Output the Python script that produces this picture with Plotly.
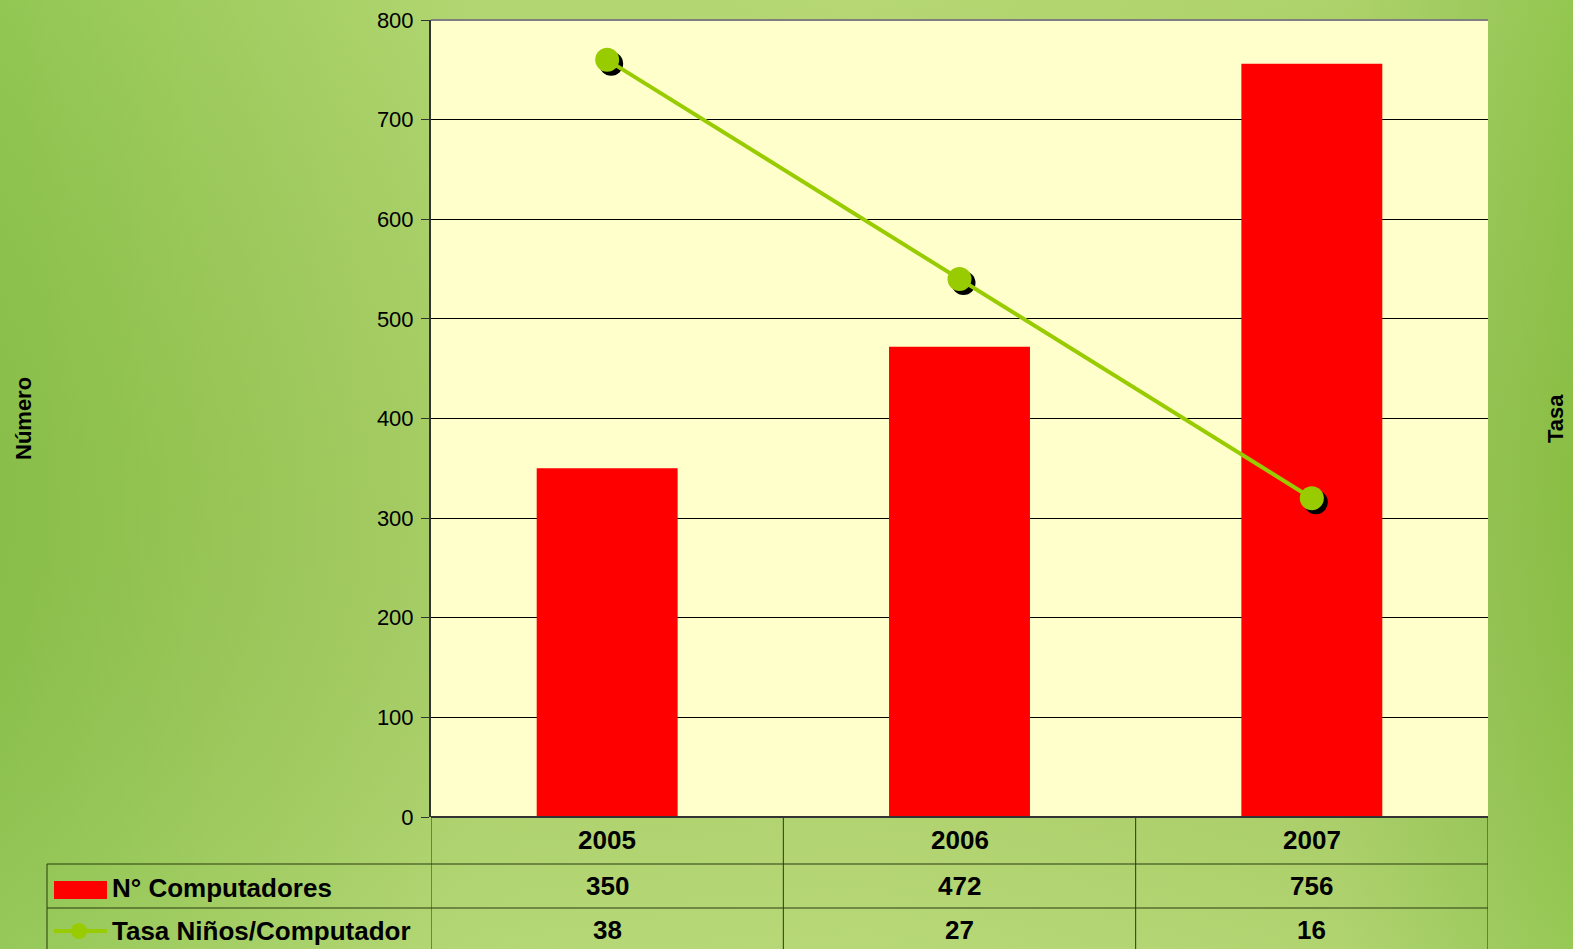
import base64
import plotly.graph_objects as go

years = ["2005", "2006", "2007"]
computadores = [350, 472, 756]
tasa = [38, 27, 16]
series_names = ["N° Computadores", "Tasa Niños/Computador"]

W, H = 1573, 949
L, R, T, B = 431, 85, 20, 132
PW, PH = W - L - R, H - T - B

def py(ypx):
    return (H - B - ypx) / PH

def px(xpx):
    return (xpx - L) / PW

GREEN = "#99CC00"
FONT = "Liberation Sans, Arial, sans-serif"

svg = ('<svg xmlns="http://www.w3.org/2000/svg" width="%d" height="%d">'
       '<defs><linearGradient id="g" x1="0" y1="0" x2="1" y2="0">'
       '<stop offset="0" stop-color="#8CC44B"/>'
       '<stop offset="0.12" stop-color="#9ACA56"/>'
       '<stop offset="0.3" stop-color="#AED46A"/>'
       '<stop offset="0.55" stop-color="#B2D56C"/>'
       '<stop offset="0.85" stop-color="#AAD064"/>'
       '<stop offset="0.95" stop-color="#97C753"/>'
       '<stop offset="1" stop-color="#8EC446"/>'
       '</linearGradient>'
       '<linearGradient id="v" x1="0" y1="0" x2="0" y2="1">'
       '<stop offset="0" stop-color="#ffffff" stop-opacity="0.05"/>'
       '<stop offset="0.5" stop-color="#000000" stop-opacity="0.03"/>'
       '<stop offset="1" stop-color="#ffffff" stop-opacity="0.08"/>'
       '</linearGradient></defs>'
       '<rect width="100%%" height="100%%" fill="url(#g)"/>'
       '<rect width="100%%" height="100%%" fill="url(#v)"/></svg>') % (W, H)
bg_src = "data:image/svg+xml;base64," + base64.b64encode(svg.encode()).decode()

fig = go.Figure()
fig.add_trace(go.Bar(x=years, y=computadores, marker=dict(color="#FF0000", line=dict(width=0)),
                     width=0.4, name=series_names[0], xaxis="x", yaxis="y"))
fig.add_trace(go.Scatter(x=years, y=tasa, mode="markers", marker=dict(size=24, color="black"),
                         xaxis="x2", yaxis="y3", showlegend=False, hoverinfo="skip"))
fig.add_trace(go.Scatter(x=years, y=tasa, mode="lines+markers", name=series_names[1],
                         line=dict(color=GREEN, width=4), marker=dict(size=24, color=GREEN),
                         xaxis="x3", yaxis="y4"))

dx = 4 / (PW / 3)
dy = 4 / PH * 40

fig.update_layout(
    width=W, height=H,
    margin=dict(l=L, r=R, t=T, b=B, pad=0),
    paper_bgcolor="#A6CE63",
    plot_bgcolor="#FFFFCC",
    showlegend=False,
    font=dict(family=FONT, color="black", size=22),
    xaxis=dict(type="category", range=[-0.5, 2.5], showticklabels=False, ticks="",
               showgrid=False, zeroline=False, showline=False, automargin=False),
    xaxis2=dict(type="category", overlaying="x", range=[-0.5 - dx, 2.5 - dx], visible=False),
    xaxis3=dict(type="category", overlaying="x", range=[-0.5, 2.5], visible=False),
    yaxis=dict(range=[0, 800], tickvals=list(range(0, 801, 100)), ticks="outside",
               ticklen=8, tickcolor="#333333", showgrid=True, gridcolor="black", gridwidth=1,
               zeroline=False, showline=True, linecolor="#333333", linewidth=2,
               tickfont=dict(size=22, family=FONT), automargin=False, ticklabelstandoff=3),
    yaxis2=dict(range=[0, 40], tickvals=list(range(0, 41, 5)), overlaying="y", side="right",
                ticks="outside", ticklen=10, tickcolor="#333333", showgrid=False, zeroline=False,
                showline=True, linecolor="black", linewidth=2, tickfont=dict(size=22, family=FONT),
                automargin=False, ticklabelstandoff=5),
    yaxis3=dict(range=[0 + dy, 40 + dy], overlaying="y", visible=False, automargin=False),
    yaxis4=dict(range=[0, 40], overlaying="y", visible=False, automargin=False),
    images=[dict(source=bg_src, xref="paper", yref="paper", x=px(0), y=py(0),
                 sizex=W / PW, sizey=H / PH, xanchor="left", yanchor="top",
                 sizing="stretch", layer="below")],
)

shapes = []
shapes.append(dict(type="rect", xref="paper", yref="paper", x0=0, x1=1, y0=0, y1=1,
                   fillcolor="#FFFFCC", line=dict(width=0), layer="below"))
shapes.append(dict(type="line", xref="paper", yref="paper", x0=0, x1=1, y0=1, y1=1,
                   line=dict(color="#808080", width=2)))
line_c = "#2a3a10"
for xb in [-0.5, 0.5, 1.5, 2.5]:
    shapes.append(dict(type="line", xref="x", yref="paper", x0=xb, x1=xb, y0=py(817), y1=py(H),
                       line=dict(color=line_c, width=1)))
shapes.append(dict(type="line", xref="paper", yref="paper", x0=px(47), x1=px(47), y0=py(864), y1=py(H),
                   line=dict(color=line_c, width=1)))
for yp in [864, 908]:
    shapes.append(dict(type="line", xref="paper", yref="paper", x0=px(47), x1=1, y0=py(yp), y1=py(yp),
                       line=dict(color=line_c, width=1)))
shapes.append(dict(type="line", xref="paper", yref="paper", x0=0, x1=1, y0=0, y1=0,
                   line=dict(color="#333333", width=2)))
shapes.append(dict(type="rect", xref="paper", yref="paper", x0=px(54), x1=px(107), y0=py(899), y1=py(881),
                   fillcolor="#FF0000", line=dict(width=0)))
shapes.append(dict(type="line", xref="paper", yref="paper", x0=px(54), x1=px(107), y0=py(931), y1=py(931),
                   line=dict(color=GREEN, width=4)))
shapes.append(dict(type="circle", xref="paper", yref="paper", x0=px(71), x1=px(87), y0=py(939), y1=py(923),
                   fillcolor=GREEN, line=dict(width=0)))

ann = []
tf = dict(family=FONT, size=26, color="black")
for i, yv in enumerate(years):
    ann.append(dict(x=i, y=py(840), xref="x", yref="paper", text="<b>%s</b>" % yv, showarrow=False,
                    font=tf, xanchor="center", yanchor="middle"))
    ann.append(dict(x=i, y=py(886), xref="x", yref="paper", text="<b>%d</b>" % computadores[i],
                    showarrow=False, font=tf, xanchor="center", yanchor="middle"))
    ann.append(dict(x=i, y=py(930), xref="x", yref="paper", text="<b>%d</b>" % tasa[i],
                    showarrow=False, font=tf, xanchor="center", yanchor="middle"))
ann.append(dict(x=px(110), y=py(888), xref="paper", yref="paper", text="<b>%s</b>" % series_names[0],
                showarrow=False, font=tf, xanchor="left", yanchor="middle"))
ann.append(dict(x=px(110), y=py(931), xref="paper", yref="paper", text="<b>%s</b>" % series_names[1],
                showarrow=False, font=tf, xanchor="left", yanchor="middle"))
ann.append(dict(x=px(23), y=py(419), xref="paper", yref="paper", text="<b>Número</b>", textangle=-90,
                showarrow=False, font=dict(family=FONT, size=22, color="black"), xanchor="center", yanchor="middle"))
ann.append(dict(x=px(1555), y=py(419), xref="paper", yref="paper", text="<b>Tasa</b>", textangle=-90,
                showarrow=False, font=dict(family=FONT, size=22, color="black"), xanchor="center", yanchor="middle"))

fig.update_layout(shapes=shapes, annotations=ann)
fig.write_html("out.html", config={"displayModeBar": False},
               post_script="document.body.style.margin='0';document.body.style.background='#A6CE63';")
